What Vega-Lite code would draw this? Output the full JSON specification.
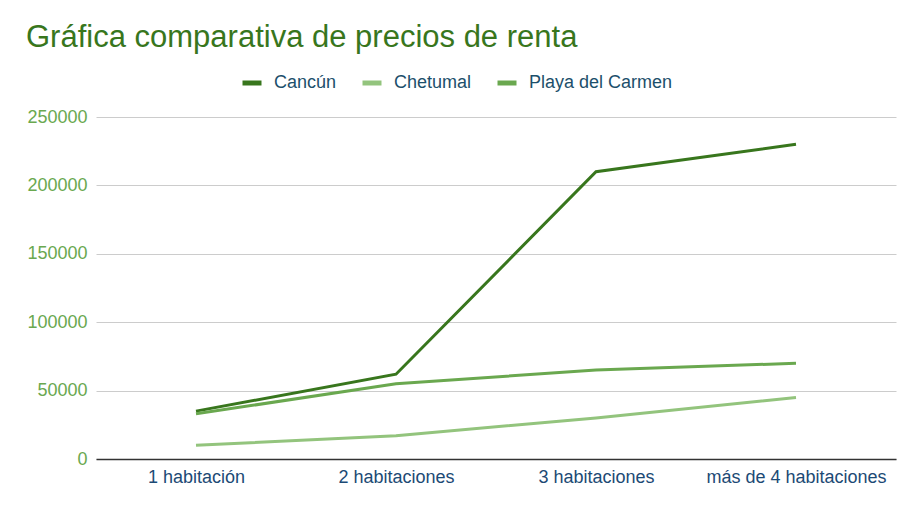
{
  "$schema": "https://vega.github.io/schema/vega-lite/v6.json",
  "width": 800,
  "height": 342,
  "autosize": {"type": "none"},
  "padding": {"left": 96, "top": 117, "right": 25, "bottom": 54},
  "background": "white",
  "title": {
    "text": "Gráfica comparativa de precios de renta",
    "anchor": "start",
    "frame": "group",
    "dx": -70,
    "fontSize": 31,
    "font": "Liberation Sans",
    "fontWeight": "normal",
    "color": "#38761d",
    "offset": 17
  },
  "config": {
    "view": {"stroke": null},
    "font": "Liberation Sans"
  },
  "data": {
    "values": [
      {"tipo": "1 habitación", "ciudad": "Cancún", "precio": 35000},
      {"tipo": "2 habitaciones", "ciudad": "Cancún", "precio": 62000},
      {"tipo": "3 habitaciones", "ciudad": "Cancún", "precio": 210000},
      {"tipo": "más de 4 habitaciones", "ciudad": "Cancún", "precio": 230000},
      {"tipo": "1 habitación", "ciudad": "Chetumal", "precio": 10000},
      {"tipo": "2 habitaciones", "ciudad": "Chetumal", "precio": 17000},
      {"tipo": "3 habitaciones", "ciudad": "Chetumal", "precio": 30000},
      {"tipo": "más de 4 habitaciones", "ciudad": "Chetumal", "precio": 45000},
      {"tipo": "1 habitación", "ciudad": "Playa del Carmen", "precio": 33000},
      {"tipo": "2 habitaciones", "ciudad": "Playa del Carmen", "precio": 55000},
      {"tipo": "3 habitaciones", "ciudad": "Playa del Carmen", "precio": 65000},
      {"tipo": "más de 4 habitaciones", "ciudad": "Playa del Carmen", "precio": 70000}
    ]
  },
  "mark": {"type": "line", "strokeWidth": 3},
  "encoding": {
    "x": {
      "field": "tipo",
      "type": "ordinal",
      "sort": ["1 habitación", "2 habitaciones", "3 habitaciones", "más de 4 habitaciones"],
      "scale": {"type": "point", "padding": 0.5},
      "axis": {
        "title": null,
        "labelAngle": 0,
        "labelFontSize": 18,
        "labelLimit": 0,
        "labelColor": "#1c4a75",
        "labelPadding": 9,
        "ticks": false,
        "domainColor": "#333333",
        "domainWidth": 1.5,
        "grid": false
      }
    },
    "y": {
      "field": "precio",
      "type": "quantitative",
      "scale": {"domain": [0, 250000]},
      "axis": {
        "title": null,
        "values": [0, 50000, 100000, 150000, 200000, 250000],
        "format": "d",
        "labelFontSize": 18,
        "labelColor": "#6aa84f",
        "labelPadding": 9,
        "ticks": false,
        "domain": false,
        "gridColor": "#cccccc",
        "gridWidth": 1
      }
    },
    "color": {
      "field": "ciudad",
      "type": "nominal",
      "scale": {
        "domain": ["Cancún", "Chetumal", "Playa del Carmen"],
        "range": ["#38761d", "#93c47d", "#6aa84f"]
      },
      "legend": {
        "title": null,
        "orient": "none",
        "legendX": 144,
        "legendY": -46,
        "direction": "horizontal",
        "symbolType": "stroke",
        "symbolStrokeWidth": 5,
        "symbolSize": 361,
        "labelFontSize": 18,
        "labelColor": "#1c4f6b",
        "labelOffset": 10,
        "columnPadding": 15
      }
    }
  }
}
